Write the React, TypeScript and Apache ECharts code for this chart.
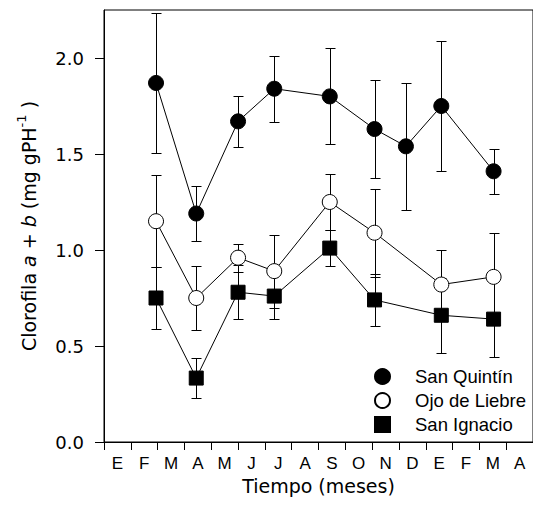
import React, { useEffect, useRef } from 'react';
import * as echarts from 'echarts';

// Month initials (Spanish), Jan of year 1 through Apr of year 2
const monthLabels = ['E', 'F', 'M', 'A', 'M', 'J', 'J', 'A', 'S', 'O', 'N', 'D', 'E', 'F', 'M', 'A'];

// Sampling dates, in months since 1 January of the first year
const sampleMonths = [1.94, 3.44, 5.0, 6.35, 8.42, 10.09, 11.26, 12.58, 14.53];

// San Quintín (all dates)
const sanQuintinMean = [1.87, 1.19, 1.67, 1.84, 1.8, 1.63, 1.54, 1.75, 1.41];
const sanQuintinErr = [0.365, 0.143, 0.133, 0.172, 0.25, 0.255, 0.33, 0.34, 0.118];

// Ojo de Liebre (no December sample)
const ojoMonths = [1.94, 3.44, 5.0, 6.35, 8.42, 10.09, 12.58, 14.53];
const ojoMean = [1.15, 0.75, 0.96, 0.89, 1.25, 1.09, 0.82, 0.86];
const ojoErr = [0.24, 0.166, 0.073, 0.19, 0.146, 0.23, 0.18, 0.23];

// San Ignacio (no December sample)
const ignacioMonths = [1.94, 3.44, 5.0, 6.35, 8.42, 10.09, 12.58, 14.53];
const ignacioMean = [0.75, 0.333, 0.78, 0.76, 1.01, 0.74, 0.66, 0.64];
const ignacioErr = [0.16, 0.106, 0.14, 0.12, 0.095, 0.137, 0.194, 0.197];

const yTicks = [0, 0.5, 1.0, 1.5, 2.0];

const FONT = '"Liberation Sans", Arial, Helvetica, sans-serif';
const WIDE = '"DejaVu Sans", "Liberation Sans", sans-serif';

function pts(xs: number[], ys: number[]) {
  return xs.map((x, i) => [x, ys[i]]);
}
function bars(xs: number[], ys: number[], es: number[]) {
  return xs.map((x, i) => [x, ys[i] - es[i], ys[i] + es[i]]);
}

const errorRender = (params: any, api: any) => {
  const x = api.value(0);
  const lo = api.value(1);
  const hi = api.value(2);
  const top = api.coord([x, hi]);
  const bot = api.coord([x, lo]);
  const cx = Math.round(top[0]) + 0.5;
  const ty = Math.round(top[1]) + 0.5;
  const by = Math.round(bot[1]) + 0.5;
  const hw = 5;
  const style = { stroke: '#000', lineWidth: 1 };
  return {
    type: 'group',
    children: [
      { type: 'line', shape: { x1: cx, y1: ty, x2: cx, y2: by }, style },
      { type: 'line', shape: { x1: cx - hw, y1: ty, x2: cx + hw, y2: ty }, style },
      { type: 'line', shape: { x1: cx - hw, y1: by, x2: cx + hw, y2: by }, style },
    ],
  };
};

export default function App() {
  const ref = useRef<HTMLDivElement>(null);
  useEffect(() => {
    if (!ref.current) return;
    const chart = echarts.init(ref.current, undefined, { renderer: 'svg' });
    const errSeries = (data: number[][]) => ({
      type: 'custom',
      xAxisIndex: 1,
      yAxisIndex: 0,
      renderItem: errorRender,
      data,
      encode: { x: 0, y: [1, 2] },
      z: 1,
      silent: true,
    });
    const lineSeries = (name: string, data: number[][], symbol: string, size: number, fill: string) => ({
      name,
      type: 'line',
      xAxisIndex: 1,
      yAxisIndex: 0,
      data,
      symbol,
      symbolSize: size,
      showAllSymbol: true,
      lineStyle: { color: '#000', width: 1 },
      itemStyle: { color: fill, borderColor: '#000', borderWidth: 1, opacity: 1 },
      emphasis: { disabled: true },
      z: 3,
    });
    chart.setOption({
      animation: false,
      backgroundColor: '#fff',
      grid: { left: 104, right: -3, top: 10, bottom: 68, show: true, borderColor: '#000', borderWidth: 1, backgroundColor: 'transparent' },
      legend: {
        orient: 'vertical',
        left: 374,
        top: 367,
        padding: 0,
        itemWidth: 15,
        itemHeight: 15,
        itemGap: 5,
        selectedMode: false,
        data: [
          { name: 'San Quintín', icon: 'circle' },
          { name: 'Ojo de Liebre', icon: 'circle' },
          { name: 'San Ignacio', icon: 'rect' },
        ],
        textStyle: { fontSize: 18.5, fontFamily: FONT, color: '#000', padding: [0, 0, 0, 20] },
      },
      xAxis: [
        {
          type: 'category',
          data: monthLabels,
          boundaryGap: true,
          position: 'bottom',
          axisLine: { lineStyle: { color: '#000', width: 1 } },
          axisTick: { show: true, length: 8, interval: 0, lineStyle: { color: '#000' } },
          axisLabel: { interval: 0, fontSize: 17, fontFamily: FONT, color: '#000', margin: 13 },
          splitLine: { show: false },
          name: 'Tiempo (meses)',
          nameLocation: 'middle',
          nameGap: 31,
          nameTextStyle: { fontSize: 19, fontFamily: WIDE, color: '#000' },
        },
        {
          type: 'value',
          min: 0,
          max: 16,
          show: false,
          splitLine: { show: false },
        },
      ],
      yAxis: [
        {
          type: 'value',
          min: 0,
          max: 2.25,
          interval: 0.5,
          axisLine: { show: true, lineStyle: { color: '#000', width: 1 } },
          axisTick: { show: true, length: 9, customValues: yTicks, lineStyle: { color: '#000' } },
          axisLabel: {
            customValues: yTicks,
            formatter: (v: number) => v.toFixed(1),
            fontSize: 18,
            fontFamily: WIDE,
            color: '#000',
            margin: 20,
          },
          splitLine: { show: false },
          name: '{n|Clorofila }{i|a}{n| + }{i|b}{n| (mg gPH}{s|-1}{n| )}',
          nameLocation: 'middle',
          nameRotate: 90,
          nameGap: 62,
          nameTextStyle: {
            fontSize: 19,
            fontFamily: WIDE,
            color: '#000',
            rich: {
              n: { fontSize: 19, fontFamily: WIDE, color: '#000', lineHeight: 27 },
              i: { fontSize: 19, fontFamily: WIDE, color: '#000', fontStyle: 'italic', lineHeight: 27 },
              s: { fontSize: 13, fontFamily: WIDE, color: '#000', verticalAlign: 'top', lineHeight: 13 },
            },
          },
        },
      ],
      series: [
        errSeries(bars(sampleMonths, sanQuintinMean, sanQuintinErr)),
        errSeries(bars(ojoMonths, ojoMean, ojoErr)),
        errSeries(bars(ignacioMonths, ignacioMean, ignacioErr)),
        lineSeries('San Quintín', pts(sampleMonths, sanQuintinMean), 'circle', 15, '#000'),
        lineSeries('Ojo de Liebre', pts(ojoMonths, ojoMean), 'circle', 15, '#fff'),
        lineSeries('San Ignacio', pts(ignacioMonths, ignacioMean), 'rect', 14, '#000'),
      ],
    });
    return () => chart.dispose();
  }, []);
  return <div ref={ref} style={{ position: 'absolute', left: 0, top: 0, width: 533, height: 510 }} />;
}
